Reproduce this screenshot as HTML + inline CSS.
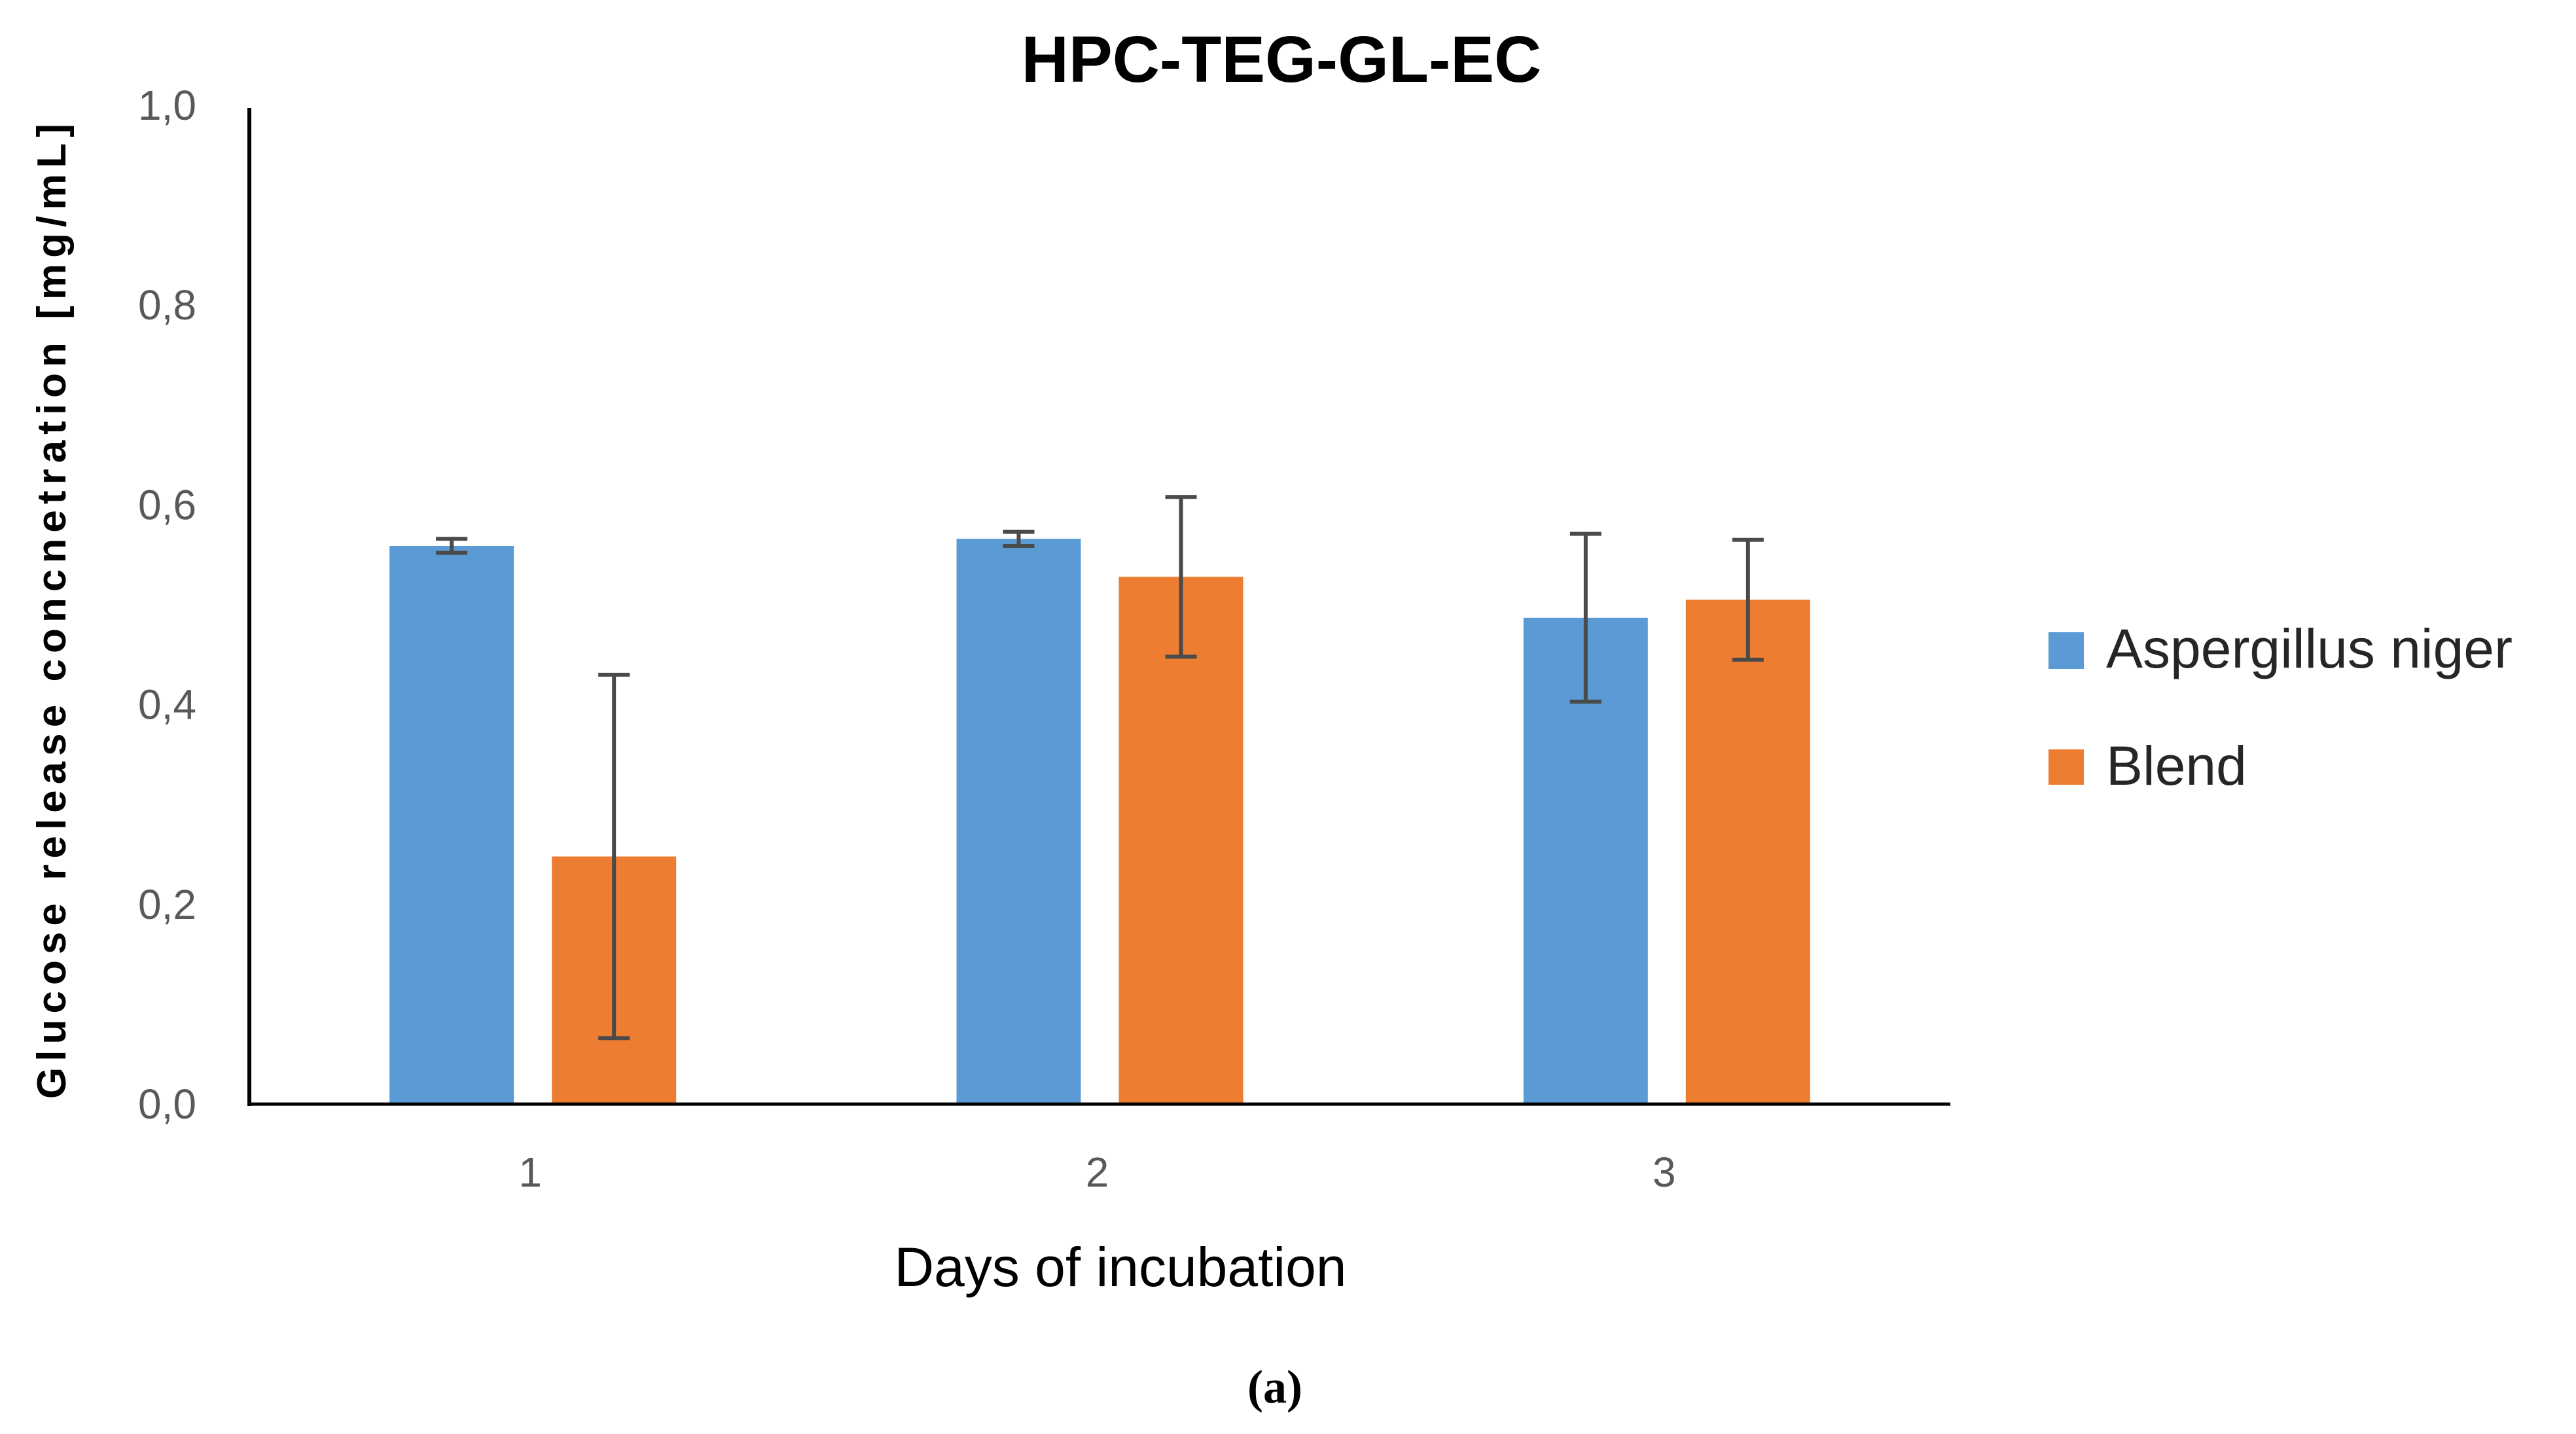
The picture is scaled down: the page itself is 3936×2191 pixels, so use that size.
<!DOCTYPE html>
<html><head><meta charset="utf-8"><style>
html,body{margin:0;padding:0;background:#fff;}
svg{display:block;font-family:"Liberation Sans",sans-serif;}
</style></head><body>
<svg id="chart" width="3936" height="2191" viewBox="0 0 3936 2191">
<text x="1958" y="125" text-anchor="middle" font-size="100" font-weight="bold" fill="#000">HPC-TEG-GL-EC</text>
<text transform="translate(100,934) rotate(-90)" text-anchor="middle" font-size="62" font-weight="bold" fill="#000" textLength="1490" lengthAdjust="spacing">Glucose  release concnetration  [mg/mL]</text>
<text x="1712" y="1965" text-anchor="middle" font-size="84" fill="#000">Days of incubation</text>
<text x="1948" y="2143" text-anchor="middle" font-size="72" font-weight="bold" font-family="Liberation Serif, serif" fill="#000">(a)</text>
<g id="plot"></g>
<g>
<rect x="3130" y="966" width="54" height="56" fill="#5B9BD5"/>
<text x="3218" y="1020" font-size="84" fill="#262626">Aspergillus niger</text>
<rect x="3130" y="1145" width="54" height="54" fill="#ED7D31"/>
<text x="3218" y="1199" font-size="84" fill="#262626">Blend</text>
</g>
</svg>
<script>
const categories = ["1","2","3"];
const aspergillus = [0.559, 0.566, 0.487];
const aspergillusErr = [0.007, 0.007, 0.084];
const blend = [0.248, 0.528, 0.505];
const blendErr = [0.182, 0.080, 0.060];
const yTicks = [0, 0.2, 0.4, 0.6, 0.8, 1.0];
const yTickLabels = ["0,0","0,2","0,4","0,6","0,8","1,0"];

const NS = "http://www.w3.org/2000/svg";
const g = document.getElementById("plot");
const x0 = 381, x1 = 2980, yBase = 1687, yTop = 161;
const y = v => yBase - v * (yBase - yTop);
const groupW = (x1 - x0) / categories.length;
const xCenter = i => x0 + groupW * (i + 0.5);
const barW = 190, gap = 58;
function mk(tag, attrs) { const e = document.createElementNS(NS, tag); for (const k in attrs) e.setAttribute(k, attrs[k]); g.appendChild(e); return e; }

yTicks.forEach((t, i) => {
  const tx = mk("text", {x: 300, y: y(t) + 22, "text-anchor": "end", "font-size": 64, fill: "#595959"});
  tx.textContent = yTickLabels[i];
  
  
});

const series = [[aspergillus, aspergillusErr, "#5B9BD5", "aspergillus"], [blend, blendErr, "#ED7D31", "blend"]];
categories.forEach((c, i) => {
  series.forEach((s, j) => {
    const left = xCenter(i) - gap / 2 - barW + j * (barW + gap);
    const v = s[0][i], e = s[1][i];
    const r = mk("rect", {x: left, y: y(v), width: barW, height: yBase - y(v), fill: s[2]});
    
    
    const cx = left + barW / 2;
    const eb = mk("path", {d: `M${cx-24},${y(v+e)}H${cx+24}M${cx},${y(v+e)}V${y(v-e)}M${cx-24},${y(v-e)}H${cx+24}`, stroke: "#4a4a4a", "stroke-width": 6, fill: "none"});
    
    
  });
  const lt = mk("text", {x: xCenter(i) - 4, y: 1813, "text-anchor": "middle", "font-size": 64, fill: "#595959"});
  lt.textContent = c;
  
  
});

const ya = mk("line", {x1: x0, y1: 165, x2: x0, y2: yBase + 3, stroke: "#000", "stroke-width": 6});


const xa = mk("line", {x1: x0 - 3, y1: yBase, x2: x1, y2: yBase, stroke: "#000", "stroke-width": 5});


</script>
</body></html>
